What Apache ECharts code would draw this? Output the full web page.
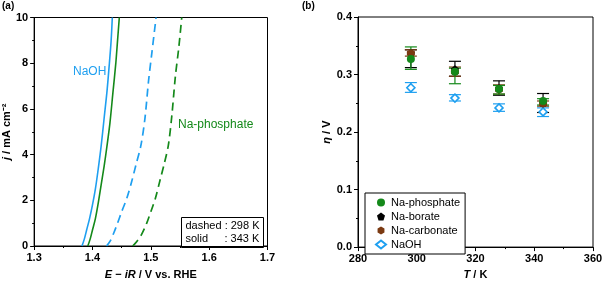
<!DOCTYPE html>
<html>
<head>
<meta charset="utf-8">
<script src="https://cdn.jsdelivr.net/npm/echarts@6/dist/echarts.min.js"></script>
<style>
  html, body { margin: 0; padding: 0; background: #fff; }
  #chart { width: 607px; height: 285px; }
</style>
</head>
<body>
<div id="chart"></div>
<script>
// (a) LSV curves, [E - iR, j]
const naohSolid = [[1.382,0],[1.386,0.3],[1.390,0.7],[1.395,1.2],[1.400,1.8],[1.405,2.5],[1.410,3.4],[1.415,4.4],[1.420,5.6],[1.425,6.8],[1.429,8.0],[1.432,9.0],[1.434,10]];
const phosSolid = [[1.392,0],[1.396,0.3],[1.400,0.7],[1.405,1.2],[1.410,1.9],[1.415,2.7],[1.420,3.5],[1.425,4.4],[1.430,5.4],[1.435,6.7],[1.440,8.0],[1.443,9.0],[1.446,10]];
const naohDashed = [[1.424,0],[1.430,0.2],[1.437,0.6],[1.443,1.0],[1.450,1.5],[1.459,2.1],[1.467,2.8],[1.475,3.6],[1.483,4.4],[1.490,5.6],[1.496,7.2],[1.502,8.5],[1.509,10]];
const phosDashed = [[1.469,0],[1.476,0.2],[1.484,0.5],[1.493,1.0],[1.500,1.5],[1.508,2.1],[1.516,2.9],[1.523,3.6],[1.530,4.4],[1.536,5.7],[1.542,7.4],[1.548,8.7],[1.553,10]];

// (b) overpotential vs temperature
const temps = [298, 313, 328, 343];
const phosphate = [0.327, 0.305, 0.275, 0.254];
const phosphateLow = [0.309, 0.284, 0.266, 0.247];
const phosphateHigh = [0.348, 0.311, 0.281, 0.258];
const borate = [0.337, 0.309, 0.276, 0.251];
const borateLow = [0.312, 0.297, 0.264, 0.234];
const borateHigh = [0.343, 0.323, 0.289, 0.267];
const carbonate = [0.337, 0.305, 0.274, 0.249];
const carbonateLow = [0.332, 0.297, 0.266, 0.245];
const carbonateHigh = [0.343, 0.313, 0.282, 0.254];
const naoh = [0.277, 0.259, 0.242, 0.235];
const naohLow = [0.269, 0.254, 0.236, 0.227];
const naohHigh = [0.286, 0.265, 0.249, 0.242];

const BLUE = "#1e9ff0";
const GREEN = "#14891a";
const BROWN = "#7b3a12";
const BLACK = "#000";
const FONT = "Liberation Sans";

const chart = echarts.init(document.getElementById("chart"));

const tickLabel = { color: "#000", fontFamily: FONT, fontWeight: "bold", fontSize: 11, margin: 6 };
const nameStyle = {
  color: "#000", fontFamily: FONT, fontWeight: "bold", fontSize: 11,
  rich: { i: { fontStyle: "italic", fontWeight: "bold", fontFamily: FONT, fontSize: 11 } },
};

function axisBase(extra) {
  return Object.assign({
    type: "value",
    axisLine: { show: true, onZero: false, lineStyle: { color: "#000", width: 1 } },
    axisTick: { show: true, inside: false, length: 4, lineStyle: { color: "#000" } },
    minorTick: { show: true, splitNumber: 2, length: 2, lineStyle: { color: "#000" } },
    splitLine: { show: false },
    axisLabel: tickLabel,
    nameLocation: "middle",
    nameTextStyle: nameStyle,
  }, extra);
}

function errSeries(name, color, lo, hi) {
  return {
    name: name,
    type: "custom",
    xAxisIndex: 1, yAxisIndex: 1,
    data: temps.map((t, i) => [t, lo[i], hi[i]]),
    encode: { x: 0, y: [1, 2] },
    renderItem(params, api) {
      const x = api.value(0);
      const p1 = api.coord([x, api.value(1)]);
      const p2 = api.coord([x, api.value(2)]);
      const w = 6;
      const st = { stroke: color, lineWidth: 1.2 };
      return {
        type: "group",
        children: [
          { type: "line", shape: { x1: p1[0], y1: p1[1], x2: p2[0], y2: p2[1] }, style: st },
          { type: "line", shape: { x1: p1[0] - w, y1: p1[1], x2: p1[0] + w, y2: p1[1] }, style: st },
          { type: "line", shape: { x1: p2[0] - w, y1: p2[1], x2: p2[0] + w, y2: p2[1] }, style: st },
        ],
      };
    },
  };
}

function pts(vals) {
  return temps.map((t, i) => [t, vals[i]]);
}

const PENTAGON = "path://M5,0 L10,3.8 L8.1,10 L1.9,10 L0,3.8 Z";
const HEXAGON = "path://M5,0 L9.3,2.5 L9.3,7.5 L5,10 L0.7,7.5 L0.7,2.5 Z";

const option = {
  backgroundColor: "#fff",
  animation: false,
  grid: [
    { left: 33.5, top: 17.5, width: 234, height: 234.5, show: true, borderColor: "#000", borderWidth: 1 },
    { left: 358, top: 17, width: 235, height: 235, show: true, borderColor: "#000", borderWidth: 1 },
  ],
  legend: {
    data: ["Na-phosphate", "Na-borate", "Na-carbonate", "NaOH"],
    orient: "vertical",
    left: 365, top: 193,
    itemWidth: 10, itemHeight: 8, itemGap: 3,
    padding: [4, 5, 4, 10],
    borderColor: "#000", borderWidth: 1,
    backgroundColor: "#fff",
    textStyle: { color: "#000", fontFamily: FONT, fontSize: 11 },
  },
  xAxis: [
    axisBase({
      gridIndex: 0, min: 1.3, max: 1.7, interval: 0.1,
      axisLabel: Object.assign({}, tickLabel, { formatter: v => v.toFixed(1) }),
      name: "{i|E} − {i|iR} / V vs. RHE",
      nameGap: 23,
    }),
    axisBase({
      gridIndex: 1, min: 280, max: 360, interval: 20,
      name: "{i|T} / K",
      nameGap: 20,
    }),
  ],
  yAxis: [
    axisBase({
      gridIndex: 0, min: 0, max: 10, interval: 2,
      name: "{i|j} / mA cm⁻²",
      nameGap: 16,
    }),
    axisBase({
      gridIndex: 1, min: 0, max: 0.4, interval: 0.1,
      axisLabel: Object.assign({}, tickLabel, { formatter: v => v.toFixed(1) }),
      name: "{i|η} / V",
      nameGap: 20,
    }),
  ],
  graphic: [
    { type: "text", left: 2, top: 1, style: { text: "(a)", font: "bold 10px Liberation Sans", fill: "#000" } },
    { type: "text", left: 302, top: 1, style: { text: "(b)", font: "bold 10px Liberation Sans", fill: "#000" } },
    { type: "text", left: 73, top: 66, style: { text: "NaOH", font: "12px Liberation Sans", fill: BLUE } },
    { type: "text", left: 178, top: 119, style: { text: "Na-phosphate", font: "12px Liberation Sans", fill: GREEN } },
    {
      type: "group", left: 181, top: 217,
      children: [
        { type: "rect", shape: { x: 0, y: 0, width: 82, height: 30 }, style: { fill: "#fff", stroke: "#000", lineWidth: 1 } },
        { type: "text", x: 4, y: 3, style: { text: "dashed : 298 K", font: "11px Liberation Sans", fill: "#000" } },
        { type: "text", x: 4, y: 16, style: { text: "solid", font: "11px Liberation Sans", fill: "#000" } },
        { type: "text", x: 43, y: 16, style: { text: ": 343 K", font: "11px Liberation Sans", fill: "#000" } },
      ],
    },
  ],
  series: [
    { name: "NaOH 343", type: "line", xAxisIndex: 0, yAxisIndex: 0, data: naohSolid, smooth: 0.3, showSymbol: false, lineStyle: { color: BLUE, width: 1.6 } },
    { name: "phos 343", type: "line", xAxisIndex: 0, yAxisIndex: 0, data: phosSolid, smooth: 0.3, showSymbol: false, lineStyle: { color: GREEN, width: 1.6 } },
    { name: "NaOH 298", type: "line", xAxisIndex: 0, yAxisIndex: 0, data: naohDashed, smooth: 0.3, showSymbol: false, lineStyle: { color: BLUE, width: 1.7, type: [8, 5] } },
    { name: "phos 298", type: "line", xAxisIndex: 0, yAxisIndex: 0, data: phosDashed, smooth: 0.3, showSymbol: false, lineStyle: { color: GREEN, width: 1.7, type: [8, 5] } },

    errSeries("naoh-err", BLUE, naohLow, naohHigh),
    { name: "NaOH", type: "scatter", xAxisIndex: 1, yAxisIndex: 1, data: pts(naoh), symbol: "diamond", symbolSize: 8,
      itemStyle: { color: "#fff", borderColor: BLUE, borderWidth: 1.6, opacity: 1 } },
    errSeries("borate-err", BLACK, borateLow, borateHigh),
    { name: "Na-borate", type: "scatter", xAxisIndex: 1, yAxisIndex: 1, data: pts(borate), symbol: PENTAGON, symbolSize: 8,
      itemStyle: { color: BLACK, opacity: 1 } },
    errSeries("carbonate-err", BROWN, carbonateLow, carbonateHigh),
    { name: "Na-carbonate", type: "scatter", xAxisIndex: 1, yAxisIndex: 1, data: pts(carbonate), symbol: HEXAGON, symbolSize: 8,
      itemStyle: { color: BROWN, opacity: 1 } },
    errSeries("phosphate-err", GREEN, phosphateLow, phosphateHigh),
    { name: "Na-phosphate", type: "scatter", xAxisIndex: 1, yAxisIndex: 1, data: pts(phosphate), symbol: "circle", symbolSize: 8,
      itemStyle: { color: GREEN, opacity: 1 } },
  ],
};

chart.setOption(option);
</script>
</body>
</html>
